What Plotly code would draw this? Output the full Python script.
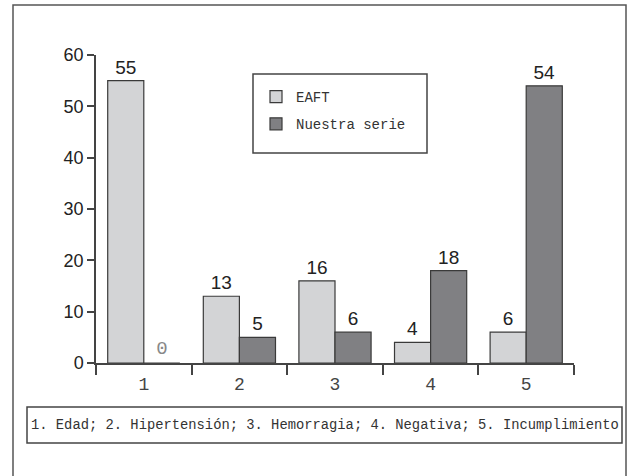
import plotly.graph_objects as go

categories = ["1", "2", "3", "4", "5"]
eaft = [55, 13, 16, 4, 6]
nuestra = [0, 5, 6, 18, 54]
series_names = ["EAFT", "Nuestra serie"]
y_ticks = [0, 10, 20, 30, 40, 50, 60]
caption = "1. Edad; 2. Hipertensión; 3. Hemorragia; 4. Negativa; 5. Incumplimiento"

W, H = 628, 476
L, T = 96, 55
R = W - 574
B = H - 363
pw, ph = W - L - R, H - T - B

def px(x):
    return (x - L) / pw

def py(y):
    return (H - B - y) / ph

num_font = "Liberation Sans, Arial, sans-serif"
mono_font = "Liberation Mono, Courier New, monospace"
edge = "#3a3a3a"

fig = go.Figure()
fig.add_trace(go.Bar(
    x=categories, y=eaft, name=series_names[0], legendgroup="a",
    marker=dict(color="#d3d4d6", line=dict(color=edge, width=1.2)),
    text=[str(v) for v in eaft], textposition="outside",
    textfont=dict(family=num_font, size=19, color="#222"),
    cliponaxis=False,
))
fig.add_trace(go.Bar(
    x=categories, y=nuestra, name=series_names[1], legendgroup="b",
    marker=dict(color="#808083", line=dict(color=edge, width=1.2)),
    text=[str(v) for v in nuestra], textposition="outside",
    textfont=dict(
        family=[mono_font if v == 0 else num_font for v in nuestra],
        size=19,
        color=["#888" if v == 0 else "#222" for v in nuestra],
    ),
    cliponaxis=False,
))

fig.update_layout(
    width=W, height=H,
    margin=dict(l=L, r=R, t=T, b=B, pad=0),
    paper_bgcolor="white", plot_bgcolor="white",
    barmode="group", bargap=0.245, bargroupgap=0,
    showlegend=True,
    legend=dict(
        x=px(256), y=py(81), xanchor="left", yanchor="top",
        bgcolor="rgba(0,0,0,0)", borderwidth=0,
        font=dict(family=mono_font, size=14, color="#333"),
        tracegroupgap=6, traceorder="grouped",
    ),
    xaxis=dict(
        type="category", range=[-0.5, 4.5],
        showline=True, linecolor="#444", linewidth=1.5,
        ticks="outside", tickson="boundaries", ticklen=10, tickwidth=1.5, tickcolor="#444",
        tickfont=dict(family=mono_font, size=18, color="#444"),
        ticklabelstandoff=4,
        showgrid=False, zeroline=False, fixedrange=True,
    ),
    yaxis=dict(
        range=[0, 60], tickvals=y_ticks,
        showline=True, linecolor="#444", linewidth=1.5,
        ticks="outside", ticklen=7, tickwidth=1.5, tickcolor="#444",
        tickfont=dict(family=num_font, size=18, color="#222"),
        showgrid=False, zeroline=False, fixedrange=True,
    ),
    shapes=[
        dict(type="rect", xref="paper", yref="paper",
             x0=px(13), x1=px(626), y0=py(480), y1=py(5),
             line=dict(color="#555", width=1.5), layer="below"),
        dict(type="rect", xref="paper", yref="paper",
             x0=px(253), x1=px(427), y0=py(153), y1=py(74),
             line=dict(color="#444", width=1.5), layer="below"),
        dict(type="rect", xref="paper", yref="paper",
             x0=px(27), x1=px(622), y0=py(443), y1=py(407),
             line=dict(color="#444", width=1.5)),
    ],
    annotations=[
        dict(text=caption, xref="paper", yref="paper",
             x=px(29), y=py(425), xanchor="left", yanchor="middle",
             showarrow=False,
             font=dict(family=mono_font, size=13.8, color="#333")),
    ],
)

fig.write_html(
    "out.html",
    config={"displayModeBar": False},
    post_script="document.body.style.margin='0';document.body.style.overflow='hidden';",
)
